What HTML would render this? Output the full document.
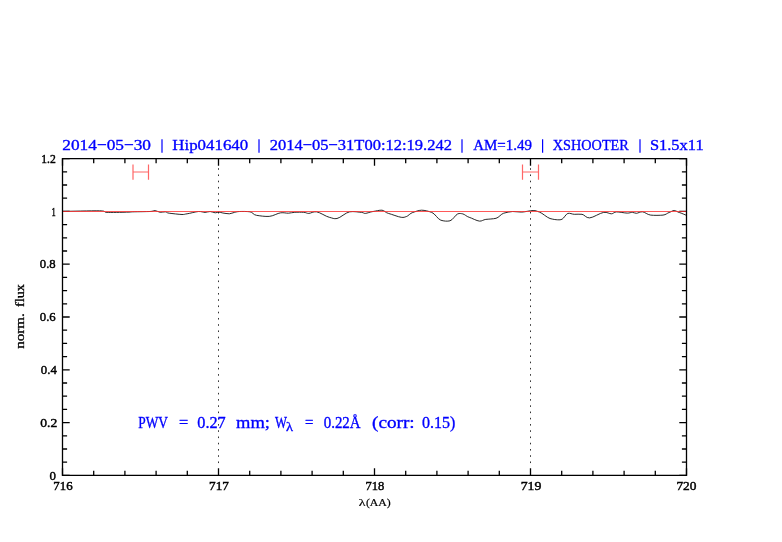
<!DOCTYPE html>
<html><head><meta charset="utf-8"><style>
html,body{margin:0;padding:0;background:#fff;width:782px;height:542px;overflow:hidden}
svg{display:block;will-change:transform}
text{font-family:"Liberation Serif",serif}
</style></head><body>
<svg width="782" height="542" viewBox="0 0 782 542">
<rect width="782" height="542" fill="#fff"/>
<path d="M218.50 168.20v1.6 M218.50 174.44v1.6 M218.50 180.68v1.6 M218.50 186.92v1.6 M218.50 193.16v1.6 M218.50 199.40v1.6 M218.50 205.64v1.6 M218.50 211.88v1.6 M218.50 218.12v1.6 M218.50 224.36v1.6 M218.50 230.60v1.6 M218.50 236.84v1.6 M218.50 243.08v1.6 M218.50 249.32v1.6 M218.50 255.56v1.6 M218.50 261.80v1.6 M218.50 268.04v1.6 M218.50 274.28v1.6 M218.50 280.52v1.6 M218.50 286.76v1.6 M218.50 293.00v1.6 M218.50 299.24v1.6 M218.50 305.48v1.6 M218.50 311.72v1.6 M218.50 317.96v1.6 M218.50 324.20v1.6 M218.50 330.44v1.6 M218.50 336.68v1.6 M218.50 342.92v1.6 M218.50 349.16v1.6 M218.50 355.40v1.6 M218.50 361.64v1.6 M218.50 367.88v1.6 M218.50 374.12v1.6 M218.50 380.36v1.6 M218.50 386.60v1.6 M218.50 392.84v1.6 M218.50 399.08v1.6 M218.50 405.32v1.6 M218.50 411.56v1.6 M218.50 417.80v1.6 M218.50 424.04v1.6 M218.50 430.28v1.6 M218.50 436.52v1.6 M218.50 442.76v1.6 M218.50 449.00v1.6 M218.50 455.24v1.6 M218.50 461.48v1.6 M530.50 168.20v1.6 M530.50 174.44v1.6 M530.50 180.68v1.6 M530.50 186.92v1.6 M530.50 193.16v1.6 M530.50 199.40v1.6 M530.50 205.64v1.6 M530.50 211.88v1.6 M530.50 218.12v1.6 M530.50 224.36v1.6 M530.50 230.60v1.6 M530.50 236.84v1.6 M530.50 243.08v1.6 M530.50 249.32v1.6 M530.50 255.56v1.6 M530.50 261.80v1.6 M530.50 268.04v1.6 M530.50 274.28v1.6 M530.50 280.52v1.6 M530.50 286.76v1.6 M530.50 293.00v1.6 M530.50 299.24v1.6 M530.50 305.48v1.6 M530.50 311.72v1.6 M530.50 317.96v1.6 M530.50 324.20v1.6 M530.50 330.44v1.6 M530.50 336.68v1.6 M530.50 342.92v1.6 M530.50 349.16v1.6 M530.50 355.40v1.6 M530.50 361.64v1.6 M530.50 367.88v1.6 M530.50 374.12v1.6 M530.50 380.36v1.6 M530.50 386.60v1.6 M530.50 392.84v1.6 M530.50 399.08v1.6 M530.50 405.32v1.6 M530.50 411.56v1.6 M530.50 417.80v1.6 M530.50 424.04v1.6 M530.50 430.28v1.6 M530.50 436.52v1.6 M530.50 442.76v1.6 M530.50 449.00v1.6 M530.50 455.24v1.6 M530.50 461.48v1.6" stroke="#333" stroke-width="1.0" fill="none"/>
<path d="M62.50 475.40V468.20 M62.50 158.60V165.80 M93.70 475.40V470.80 M93.70 158.60V163.20 M124.90 475.40V470.80 M124.90 158.60V163.20 M156.10 475.40V470.80 M156.10 158.60V163.20 M187.30 475.40V470.80 M187.30 158.60V163.20 M218.50 475.40V468.20 M218.50 158.60V165.80 M249.70 475.40V470.80 M249.70 158.60V163.20 M280.90 475.40V470.80 M280.90 158.60V163.20 M312.10 475.40V470.80 M312.10 158.60V163.20 M343.30 475.40V470.80 M343.30 158.60V163.20 M374.50 475.40V468.20 M374.50 158.60V165.80 M405.70 475.40V470.80 M405.70 158.60V163.20 M436.90 475.40V470.80 M436.90 158.60V163.20 M468.10 475.40V470.80 M468.10 158.60V163.20 M499.30 475.40V470.80 M499.30 158.60V163.20 M530.50 475.40V468.20 M530.50 158.60V165.80 M561.70 475.40V470.80 M561.70 158.60V163.20 M592.90 475.40V470.80 M592.90 158.60V163.20 M624.10 475.40V470.80 M624.10 158.60V163.20 M655.30 475.40V470.80 M655.30 158.60V163.20 M686.50 475.40V468.20 M686.50 158.60V165.80 M62.50 475.40H69.70 M686.50 475.40H679.30 M62.50 462.20H67.10 M686.50 462.20H681.90 M62.50 449.00H67.10 M686.50 449.00H681.90 M62.50 435.80H67.10 M686.50 435.80H681.90 M62.50 422.60H69.70 M686.50 422.60H679.30 M62.50 409.40H67.10 M686.50 409.40H681.90 M62.50 396.20H67.10 M686.50 396.20H681.90 M62.50 383.00H67.10 M686.50 383.00H681.90 M62.50 369.80H69.70 M686.50 369.80H679.30 M62.50 356.60H67.10 M686.50 356.60H681.90 M62.50 343.40H67.10 M686.50 343.40H681.90 M62.50 330.20H67.10 M686.50 330.20H681.90 M62.50 317.00H69.70 M686.50 317.00H679.30 M62.50 303.80H67.10 M686.50 303.80H681.90 M62.50 290.60H67.10 M686.50 290.60H681.90 M62.50 277.40H67.10 M686.50 277.40H681.90 M62.50 264.20H69.70 M686.50 264.20H679.30 M62.50 251.00H67.10 M686.50 251.00H681.90 M62.50 237.80H67.10 M686.50 237.80H681.90 M62.50 224.60H67.10 M686.50 224.60H681.90 M62.50 211.40H69.70 M686.50 211.40H679.30 M62.50 198.20H67.10 M686.50 198.20H681.90 M62.50 185.00H67.10 M686.50 185.00H681.90 M62.50 171.80H67.10 M686.50 171.80H681.90 M62.50 158.60H69.70 M686.50 158.60H679.30" stroke="#000" stroke-width="1.3" fill="none"/>
<path d="M62.50 211.40 C68.68 211.33 92.35 210.70 99.60 210.80 C106.85 210.90 103.22 212.12 106.00 212.30 C108.78 212.48 112.47 212.42 116.30 212.40 C120.13 212.38 126.02 212.17 129.00 212.10 C131.98 212.03 130.70 211.87 134.20 211.80 C137.70 211.73 146.52 211.63 150.00 211.50 C153.48 211.37 153.40 210.51 155.10 210.60 C156.80 210.69 158.50 212.17 160.20 212.30 C161.90 212.43 163.80 211.70 165.30 211.80 C166.80 211.90 166.42 212.90 169.20 213.20 C171.98 213.50 179.02 214.43 182.00 214.50 C184.98 214.57 184.33 214.13 187.10 213.80 C189.87 213.47 195.62 211.66 198.60 211.50 C201.58 211.34 203.08 212.40 205.00 212.40 C206.92 212.40 208.40 211.46 210.10 211.50 C211.80 211.54 213.72 212.73 215.20 212.80 C216.68 212.87 217.72 212.08 219.00 212.10 C220.28 212.12 221.18 212.81 222.90 213.00 C224.62 213.19 227.38 213.87 229.30 213.80 C231.22 213.73 232.70 212.66 234.40 212.40 C236.10 212.14 236.90 211.57 239.50 211.50 C242.10 211.43 247.18 211.38 250.00 211.80 C252.82 212.22 253.20 214.79 256.40 215.30 C259.60 215.81 265.15 216.68 269.20 216.40 C273.25 216.12 277.50 213.16 280.70 212.80 C283.90 212.44 286.05 213.26 288.40 213.20 C290.75 213.14 292.25 212.40 294.80 212.30 C297.35 212.20 301.37 212.18 303.70 212.30 C306.03 212.42 306.67 213.46 308.80 213.40 C310.93 213.34 313.08 211.37 316.50 211.80 C319.92 212.23 325.88 216.56 329.30 217.30 C332.72 218.04 333.60 219.11 337.00 218.50 C340.40 217.89 345.62 212.48 349.70 211.80 C353.78 211.12 358.90 212.22 361.50 212.40 C364.10 212.58 363.38 213.50 365.30 213.40 C367.22 213.30 370.22 211.86 373.00 211.50 C375.78 211.14 379.43 209.99 382.00 210.20 C384.57 210.41 385.20 212.61 388.40 213.40 C391.60 214.19 398.22 216.94 401.20 217.30 C404.18 217.66 404.38 217.13 406.30 216.60 C408.22 216.07 410.15 213.21 412.70 212.50 C415.25 211.79 418.42 210.21 421.60 210.20 C424.78 210.19 428.60 211.29 431.80 212.40 C435.00 213.51 437.77 219.27 440.80 220.20 C443.83 221.13 447.18 221.50 450.00 220.80 C452.82 220.10 455.57 214.67 457.70 213.90 C459.83 213.13 460.88 213.52 462.80 213.90 C464.72 214.28 466.43 216.50 469.20 217.30 C471.97 218.10 476.63 220.87 479.40 221.10 C482.17 221.33 483.03 219.71 485.80 219.40 C488.57 219.09 493.02 218.99 496.00 218.30 C498.98 217.61 500.92 213.96 503.70 213.20 C506.48 212.44 509.72 211.62 512.70 211.50 C515.68 211.38 518.20 212.21 521.60 212.10 C525.00 211.99 530.12 210.50 533.10 210.50 C536.08 210.50 536.68 211.21 539.50 212.10 C542.32 212.99 546.97 217.64 550.00 218.50 C553.03 219.36 555.68 219.72 557.70 219.80 C559.72 219.88 560.40 219.91 562.10 219.20 C563.80 218.49 565.87 213.94 567.90 213.40 C569.93 212.86 571.95 214.20 574.30 214.30 C576.65 214.40 579.45 213.90 582.00 214.30 C584.55 214.70 585.98 218.11 589.60 217.90 C593.22 217.69 600.07 212.86 603.70 212.40 C607.33 211.94 609.27 213.86 611.40 213.80 C613.53 213.74 613.87 211.98 616.50 211.90 C619.13 211.82 624.57 213.06 627.20 213.10 C629.83 213.14 630.77 212.28 632.30 212.30 C633.83 212.32 634.70 213.36 636.40 213.30 C638.10 213.24 640.12 211.60 642.50 211.80 C644.88 212.00 647.28 214.73 650.70 215.10 C654.12 215.47 659.93 215.39 663.00 215.10 C666.07 214.81 667.23 213.01 669.10 212.50 C670.97 211.99 672.50 210.50 674.20 210.50 C675.90 210.50 677.25 211.97 679.30 212.50 C681.35 213.03 685.30 214.99 686.50 215.30" stroke="#111" stroke-width="0.9" fill="none"/>
<path d="M62.5 211.5H686.5" stroke="#ff3030" stroke-opacity="0.8" stroke-width="1.1" fill="none"/>
<path d="M62.5 158.6H686.5V475.4H62.5Z" stroke="#000" stroke-width="1.3" fill="none"/>
<path d="M162 139.3V152.7M259 139.3V152.7M462 139.3V152.7M542.6 139.3V152.7M640 139.3V152.7" stroke="#0000ff" stroke-width="1.2" fill="none"/>
<path d="M133 164.5V179.8M148.5 164.5V179.8M133 172H148.5" stroke="#ff6666" stroke-width="1.2" fill="none"/>
<path d="M522.5 164.5V179.8M538.5 164.5V179.8M522.5 172H538.5" stroke="#ff6666" stroke-width="1.2" fill="none"/>
<g opacity="0.999">
<text x="62.300" y="150.400" font-size="15.633" fill="#0000ff" stroke="#0000ff" stroke-width="0.35" textLength="88.703" lengthAdjust="spacingAndGlyphs">2014−05−30</text>
<text x="172.300" y="150.400" font-size="15.633" fill="#0000ff" stroke="#0000ff" stroke-width="0.35" textLength="75.913" lengthAdjust="spacingAndGlyphs">Hip041640</text>
<text x="269.800" y="150.400" font-size="15.633" fill="#0000ff" stroke="#0000ff" stroke-width="0.35" textLength="182.128" lengthAdjust="spacingAndGlyphs">2014−05−31T00:12:19.242</text>
<text x="473.200" y="150.400" font-size="15.633" fill="#0000ff" stroke="#0000ff" stroke-width="0.35" textLength="58.832" lengthAdjust="spacingAndGlyphs">AM=1.49</text>
<text x="552.800" y="150.400" font-size="15.633" fill="#0000ff" stroke="#0000ff" stroke-width="0.35" textLength="76.037" lengthAdjust="spacingAndGlyphs">XSHOOTER</text>
<text x="649.900" y="150.400" font-size="15.633" fill="#0000ff" stroke="#0000ff" stroke-width="0.35" textLength="53.730" lengthAdjust="spacingAndGlyphs">S1.5x11</text>
<text x="49.500" y="479.700" font-size="12.959" fill="#000" stroke="#000" stroke-width="0.45" textLength="6.443" lengthAdjust="spacingAndGlyphs">0</text>
<text x="40.300" y="427.000" font-size="12.959" fill="#000" stroke="#000" stroke-width="0.45" textLength="17.021" lengthAdjust="spacingAndGlyphs">0.2</text>
<text x="40.800" y="374.200" font-size="12.959" fill="#000" stroke="#000" stroke-width="0.45" textLength="16.020" lengthAdjust="spacingAndGlyphs">0.4</text>
<text x="39.800" y="321.400" font-size="12.959" fill="#000" stroke="#000" stroke-width="0.45" textLength="15.957" lengthAdjust="spacingAndGlyphs">0.6</text>
<text x="39.800" y="268.150" font-size="12.959" fill="#000" stroke="#000" stroke-width="0.45" textLength="15.895" lengthAdjust="spacingAndGlyphs">0.8</text>
<text x="51.400" y="215.900" font-size="12.959" fill="#000" stroke="#000" stroke-width="0.45" textLength="4.260" lengthAdjust="spacingAndGlyphs">1</text>
<text x="41.300" y="163.000" font-size="12.959" fill="#000" stroke="#000" stroke-width="0.45" textLength="14.550" lengthAdjust="spacingAndGlyphs">1.2</text>
<text x="53.300" y="489.500" font-size="12.766" fill="#000" stroke="#000" stroke-width="0.45" textLength="19.258" lengthAdjust="spacingAndGlyphs">716</text>
<text x="209.000" y="489.500" font-size="12.766" fill="#000" stroke="#000" stroke-width="0.45" textLength="19.913" lengthAdjust="spacingAndGlyphs">717</text>
<text x="365.500" y="489.500" font-size="12.766" fill="#000" stroke="#000" stroke-width="0.45" textLength="18.892" lengthAdjust="spacingAndGlyphs">718</text>
<text x="520.700" y="489.500" font-size="12.766" fill="#000" stroke="#000" stroke-width="0.45" textLength="20.710" lengthAdjust="spacingAndGlyphs">719</text>
<text x="676.400" y="489.500" font-size="12.766" fill="#000" stroke="#000" stroke-width="0.45" textLength="20.047" lengthAdjust="spacingAndGlyphs">720</text>
<text x="358.800" y="506.400" font-size="11.353" fill="#000" stroke="#000" stroke-width="0.2" textLength="6.782" lengthAdjust="spacingAndGlyphs">λ</text>
<text x="365.900" y="506.400" font-size="11.353" fill="#000" stroke="#000" stroke-width="0.2" textLength="24.896" lengthAdjust="spacingAndGlyphs">(AA)</text>
<text x="138.300" y="428.000" font-size="16.168" fill="#0000ff" stroke="#0000ff" stroke-width="0.35" textLength="29.726" lengthAdjust="spacingAndGlyphs">PWV</text>
<text x="179.100" y="428.000" font-size="16.168" fill="#0000ff" stroke="#0000ff" stroke-width="0.35" textLength="9.240" lengthAdjust="spacingAndGlyphs">=</text>
<text x="197.300" y="428.000" font-size="16.168" fill="#0000ff" stroke="#0000ff" stroke-width="0.35" textLength="28.390" lengthAdjust="spacingAndGlyphs">0.27</text>
<text x="236.000" y="428.000" font-size="16.168" fill="#0000ff" stroke="#0000ff" stroke-width="0.35" textLength="33.930" lengthAdjust="spacingAndGlyphs">mm;</text>
<text x="275.100" y="428.000" font-size="16.168" fill="#0000ff" stroke="#0000ff" stroke-width="0.35" textLength="11.939" lengthAdjust="spacingAndGlyphs">W</text>
<text x="286.000" y="431.000" font-size="13.235" fill="#0000ff" stroke="#0000ff" stroke-width="0.35" textLength="6.984" lengthAdjust="spacingAndGlyphs">λ</text>
<text x="305.000" y="428.000" font-size="16.168" fill="#0000ff" stroke="#0000ff" stroke-width="0.35" textLength="8.421" lengthAdjust="spacingAndGlyphs">=</text>
<text x="323.700" y="428.000" font-size="16.168" fill="#0000ff" stroke="#0000ff" stroke-width="0.35" textLength="36.939" lengthAdjust="spacingAndGlyphs">0.22Å</text>
<text x="372.100" y="428.000" font-size="16.168" fill="#0000ff" stroke="#0000ff" stroke-width="0.35" textLength="42.570" lengthAdjust="spacingAndGlyphs">(corr:</text>
<text x="422.100" y="428.000" font-size="16.168" fill="#0000ff" stroke="#0000ff" stroke-width="0.35" textLength="33.299" lengthAdjust="spacingAndGlyphs">0.15)</text>
<text transform="translate(23.700 306.950) rotate(-90)" font-size="11.715" fill="#000" stroke="#000" stroke-width="0.3" textLength="22.797" lengthAdjust="spacingAndGlyphs">flux</text>
<text transform="translate(23.700 348.850) rotate(-90)" font-size="11.715" fill="#000" stroke="#000" stroke-width="0.3" textLength="35.506" lengthAdjust="spacingAndGlyphs">norm.</text>
</g>
</svg>
</body></html>
